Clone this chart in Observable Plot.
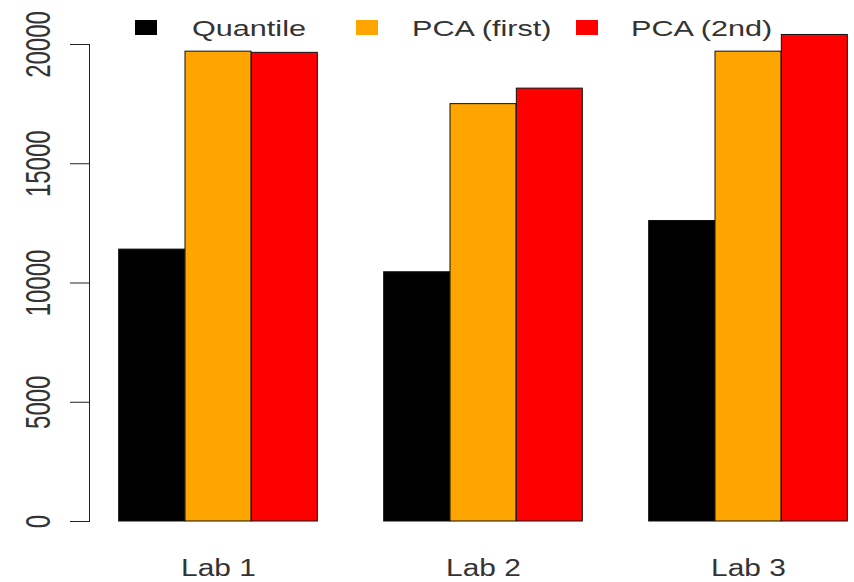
<!DOCTYPE html>
<html>
<head>
<meta charset="utf-8">
<script src="https://cdn.jsdelivr.net/npm/d3@7"></script>
<script src="https://cdn.jsdelivr.net/npm/@observablehq/plot@0.6"></script>
<style>
  html, body { margin: 0; padding: 0; background: #fff; }
  #wrap { position: relative; width: 854px; height: 582px; font-family: "Liberation Sans", Arial, sans-serif; color: #333; }
  #legend { position: absolute; left: 0; top: 0; width: 854px; height: 60px; pointer-events: none; }
  .sw { position: absolute; top: 20px; width: 22px; height: 15px; }
  .lt { position: absolute; top: 18px; font-size: 22.5px; line-height: 1; white-space: nowrap; transform: scaleX(1.36); transform-origin: left center; }
</style>
</head>
<body>
<div id="wrap"><div id="legend"></div></div>
<script>
// ---- data ----
const labs = ["Lab 1", "Lab 2", "Lab 3"];
const seriesNames = ["Quantile", "PCA (first)", "PCA (2nd)"];
const seriesColors = ["#000000", "#FFA500", "#FF0000"];
const quantile = [11400, 10450, 12600];
const pcaFirst = [19700, 17500, 19700];
const pca2nd = [19650, 18150, 20400];
const yTicks = [0, 5000, 10000, 15000, 20000];

const seriesValues = [quantile, pcaFirst, pca2nd];
const rows = seriesNames.flatMap((s, i) => labs.map((lab, j) => ({lab, series: s, value: seriesValues[i][j]})));

// band layout for groups (one bar wide band, neighbours offset by one band width)
const xRange = [85, 881], padIn = 0.75, padOut = 0.375;
const bw = d3.scaleBand().domain(labs).range(xRange).paddingInner(padIn).paddingOuter(padOut).bandwidth();

const chart = Plot.plot({
  width: 854,
  height: 582,
  marginTop: 44,
  marginBottom: 61,
  marginLeft: 89,
  marginRight: 0,
  style: {fontFamily: "'Liberation Sans', Arial, sans-serif", color: "#333", background: "white", overflow: "visible"},
  x: {type: "band", domain: labs, range: xRange, paddingInner: padIn, paddingOuter: padOut, axis: null},
  y: {domain: [0, 20000], axis: null},
  marks: [
    ...seriesNames.map((s, i) => Plot.barY(rows.filter(r => r.series === s), {
      x: "lab", y: "value", fill: seriesColors[i], stroke: "#111", strokeWidth: 1, dx: (i - 1) * bw
    })),
    Plot.frame({anchor: "left", stroke: "#222"}),
    Plot.axisY({ticks: yTicks, tickSize: 19, tickFormat: () => "", label: null, stroke: "#222"}),
    Plot.text(yTicks, {y: d => d, text: d => String(d), frameAnchor: "left", textAnchor: "middle", lineAnchor: "middle", dx: -51, rotate: -90, fontSize: 24, fill: "#333"}),
    Plot.text(labs, {x: d => d, text: d => d, frameAnchor: "bottom", textAnchor: "middle", lineAnchor: "middle", dy: 47, fontSize: 24.5, fill: "#333"})
  ]
});

// slight horizontal stretch of the text, like the reference
d3.select(chart).selectAll("text").each(function() {
  const t = this.getAttribute("transform") || "";
  const s = this.textContent;
  if (t.includes("rotate")) this.setAttribute("transform", t + " scale(1,1.5)");
  else if (labs.includes(s)) this.setAttribute("transform", t + " scale(1.22,1)");
});

const wrap = document.getElementById("wrap");
wrap.insertBefore(chart, wrap.firstChild);
chart.style.position = "absolute";
chart.style.left = "0";
chart.style.top = "0";

// legend
const legend = document.getElementById("legend");
seriesNames.forEach((s, i) => {
  const sw = document.createElement("div");
  sw.className = "sw";
  sw.style.left = (135 + i * 220.5) + "px";
  sw.style.background = seriesColors[i];
  legend.appendChild(sw);
  const lt = document.createElement("div");
  lt.className = "lt";
  lt.style.left = (192 + i * 219.5) + "px";
  lt.textContent = s;
  legend.appendChild(lt);
});
</script>
</body>
</html>
